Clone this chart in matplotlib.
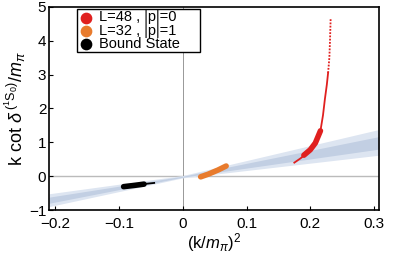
import matplotlib; matplotlib.use("Agg")
import matplotlib.pyplot as plt

plt.rcParams.update({"font.family": ["Liberation Sans", "DejaVu Sans"], "mathtext.fontset": "custom",
                     "mathtext.rm": "Liberation Sans", "mathtext.it": "Liberation Sans:italic"})

# effective range fit band (x = (k/m_pi)^2)
band_x = [-0.21, 0.0, 0.308]
outer_lo = [-0.90, -0.05, 0.62]
outer_hi = [-0.52, 0.02, 1.38]
inner_lo = [-0.80, -0.03, 0.80]
inner_hi = [-0.62, 0.00, 1.17]

# L=48, |p|=0
red_x = [0.175, 0.185, 0.192, 0.200, 0.208, 0.216, 0.220, 0.223, 0.226, 0.228]
red_y = [0.40, 0.53, 0.64, 0.78, 0.98, 1.34, 1.80, 2.28, 2.70, 3.05]
red_dot_x = [0.228, 0.230, 0.231, 0.232]
red_dot_y = [3.05, 3.50, 4.00, 4.65]
red_thick_x = [0.190, 0.200, 0.208, 0.216]
red_thick_y = [0.62, 0.78, 0.98, 1.34]

# L=32, |p|=1
orange_x = [0.028, 0.040, 0.055, 0.068]
orange_y = [-0.02, 0.06, 0.18, 0.30]

# bound state
black_x = [-0.094, -0.075, -0.060, -0.045]
black_y = [-0.31, -0.27, -0.23, -0.20]
black_thick_x = [-0.093, -0.075, -0.061]
black_thick_y = [-0.31, -0.27, -0.235]

labels = ["L=48 , |p|=0", "L=32 , |p|=1", "Bound State"]
RED = "#e0201f"; ORANGE = "#e87b2d"

fig = plt.figure(figsize=(3.99, 2.58), dpi=100)
ax = fig.add_axes([0.123, 0.186, 0.827, 0.787])

ax.axhline(0, color="#bbbbbb", lw=1.0, zorder=1)
ax.axvline(0, color="#888888", lw=0.6, zorder=1)
ax.fill_between(band_x, outer_lo, outer_hi, color="#dde5f1", lw=0, zorder=2)
ax.fill_between(band_x, inner_lo, inner_hi, color="#c2cfe3", lw=0, zorder=2)

ax.plot(red_x, red_y, color=RED, lw=1.3, zorder=4)
ax.plot(red_dot_x, red_dot_y, color=RED, lw=1.3, ls=(0, (1, 0.8)), zorder=4)
ax.plot(red_thick_x, red_thick_y, color=RED, lw=4, solid_capstyle="round", zorder=4)
ax.plot(orange_x, orange_y, color=ORANGE, lw=4, solid_capstyle="round", zorder=4)
ax.plot(black_x, black_y, color="black", lw=1.3, zorder=4)
ax.plot(black_thick_x, black_thick_y, color="black", lw=4, solid_capstyle="round", zorder=4)

for c, lab in zip([RED, ORANGE, "black"], labels):
    ax.scatter([], [], s=55, color=c, label=lab)
leg = ax.legend(loc="upper left", bbox_to_anchor=(0.085, 0.788, 0.373, 0.202), mode="expand",
                fontsize=10.5, frameon=True, fancybox=False, edgecolor="black", framealpha=1,
                handletextpad=0.4, borderpad=0.1, labelspacing=-0.05, borderaxespad=0, handlelength=1.0)
leg.get_frame().set_linewidth(1.0)
leg.set_zorder(10)

ax.set_xlim(-0.21, 0.308)
ax.set_ylim(-1, 5)
ax.set_xticks([-0.2, -0.1, 0, 0.1, 0.2, 0.3])
ax.set_xticklabels(["\u22120.2", "\u22120.1", "0", "0.1", "0.2", "0.3"])
ax.set_yticks([-1, 0, 1, 2, 3, 4, 5])
ax.set_yticklabels(["\u22121", "0", "1", "2", "3", "4", "5"])
ax.tick_params(direction="in", length=3, labelsize=11, pad=2)
ax.tick_params(axis="x", pad=5)
for s in ax.spines.values():
    s.set_linewidth(1.2)
ax.set_xlabel(r"(k/$m_\pi$)$^2$", fontsize=12, labelpad=0)
ax.set_ylabel(r"k cot $\delta^{\,(^1\mathrm{S}_0)}$/$m_\pi$", fontsize=13, labelpad=1)

fig.savefig("out.png", dpi=100)
